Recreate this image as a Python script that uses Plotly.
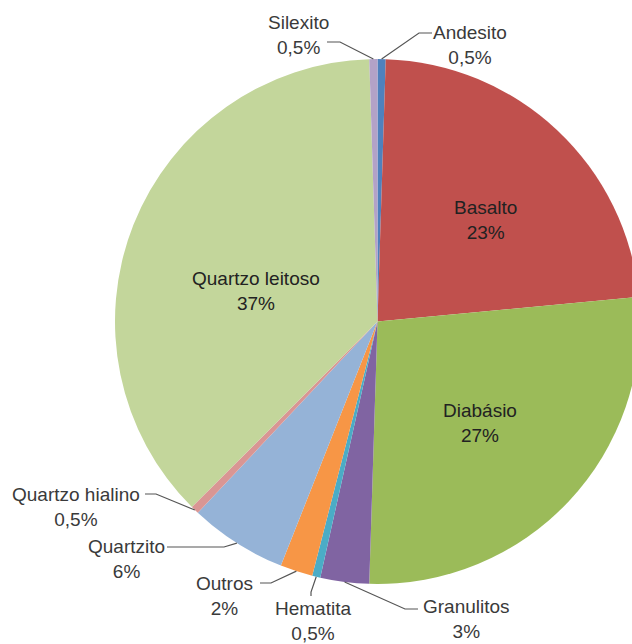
import math
import plotly.graph_objects as go

# Composition by rock type, clockwise from 12 o'clock
labels = ["Andesito", "Basalto", "Diabásio", "Granulitos", "Hematita",
          "Outros", "Quartzito", "Quartzo hialino", "Quartzo leitoso", "Silexito"]
values = [0.5, 23, 27, 3, 0.5, 2, 6, 0.5, 37, 0.5]
colors = ["#4F81BD", "#C0504D", "#9BBB59", "#8064A2", "#4BACC6",
          "#F79646", "#95B3D7", "#D99694", "#C3D69B", "#B3A2C7"]

W, H = 645, 644
CX, CY, R = 377.5, 321.5, 262.5          # pie centre and radius in px


def pct_text(v):
    return (f"{v:g}%").replace(".", ",")


def px(x, y):
    return x / W, 1 - y / H


def edge_point(i):
    total = sum(values)
    before = sum(values[:i])
    theta = 2 * math.pi * (before + values[i] / 2) / total
    return CX + R * math.sin(theta), CY - R * math.cos(theta)


fig = go.Figure(go.Pie(
    labels=labels, values=values, sort=False, direction="clockwise",
    rotation=0, marker=dict(colors=colors, line=dict(width=0)),
    textinfo="none", hoverinfo="label+percent",
    domain=dict(x=[(CX - R) / W, (CX + R) / W],
                y=[1 - (CY + R) / H, 1 - (CY - R) / H]),
    showlegend=False,
))

# Label block centres (px) and leader line anchors: (label end, elbow)
inside = {"Basalto": (485, 220), "Diabásio": (480, 423), "Quartzo leitoso": (256, 291)}
outside = {
    "Silexito": ((298, 35), [(327, 42), (340, 42)]),
    "Andesito": ((470, 45), [(432, 33), (419, 33)]),
    "Quartzo hialino": ((76, 507), [(145, 494), (156, 494)]),
    "Quartzito": ((126, 559), [(167, 547), (224, 547)]),
    "Outros": ((224, 596), [(260, 583), (271, 583)]),
    "Hematita": ((313, 621), [(311, 596), (311, 592)]),
    "Granulitos": ((466, 619), [(418, 609), (405, 609)]),
}

font = dict(family="Liberation Sans, Arial, sans-serif", size=19, color="#3a3a3a")
shapes = []
annotations = []
for i, (name, v) in enumerate(zip(labels, values)):
    text = f"{name}<br>{pct_text(v)}"
    if name in inside:
        x, y = px(*inside[name])
        annotations.append(dict(x=x, y=y, xref="paper", yref="paper", text=text,
                                xanchor="center", yanchor="middle",
                                showarrow=False, font=dict(font, color="#222")))
    else:
        (lx, ly), pts = outside[name]
        x, y = px(lx, ly)
        annotations.append(dict(x=x, y=y, xref="paper", yref="paper", text=text,
                                xanchor="center", yanchor="middle",
                                showarrow=False, font=font))
        ex, ey = edge_point(i)
        path_pts = [px(*p) for p in pts] + [px(ex, ey)]
        d = "M " + " L ".join(f"{a:.5f},{b:.5f}" for a, b in path_pts)
        shapes.append(dict(type="path", path=d, xref="paper", yref="paper",
                           line=dict(color="#555", width=1.2)))

fig.update_layout(
    width=W, height=H, margin=dict(l=0, r=0, t=0, b=0),
    paper_bgcolor="white", plot_bgcolor="white",
    annotations=annotations, shapes=shapes,
)

fig.write_html("out.html", post_script="document.body.style.overflow='hidden';document.body.style.margin='0';")
